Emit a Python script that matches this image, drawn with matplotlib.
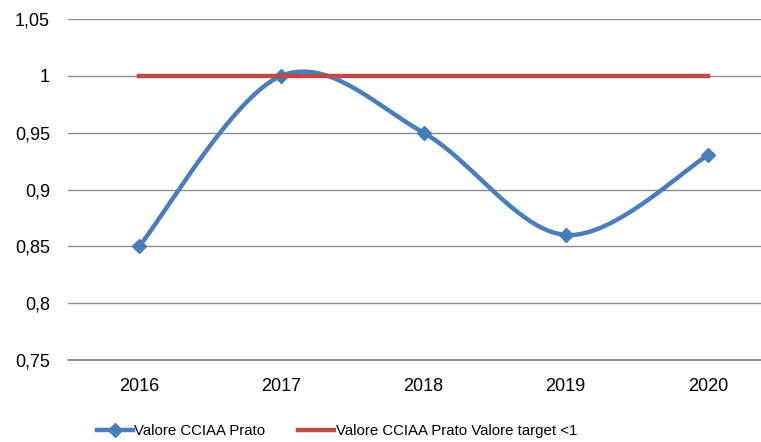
import numpy as np
import matplotlib.pyplot as plt
from matplotlib.lines import Line2D

years = ["2016", "2017", "2018", "2019", "2020"]
valore = [0.85, 1.00, 0.95, 0.86, 0.93]
target = [1.0, 1.0, 1.0, 1.0, 1.0]
yticks = [0.75, 0.80, 0.85, 0.90, 0.95, 1.00, 1.05]

BLUE = "#4A7EBB"
RED = "#BE4B48"
GRID = "#8C8C8C"


def excel_smooth(x, y, sx, sy, n=40):
    # bezier smoothing like Excel, computed in pixel-ish space
    px = np.asarray(x, float) * sx
    py = np.asarray(y, float) * sy
    P = np.column_stack([px, py])
    P = np.vstack([P[0], P, P[-1]])
    out = []
    t = np.linspace(0, 1, n)[:, None]
    for i in range(1, len(P) - 2):
        p0, p3 = P[i], P[i + 1]
        c1 = p0 + (P[i + 1] - P[i - 1]) / 6
        c2 = p3 - (P[i + 2] - P[i]) / 6
        seg = ((1 - t) ** 3) * p0 + 3 * ((1 - t) ** 2) * t * c1 + 3 * (1 - t) * t ** 2 * c2 + t ** 3 * p3
        out.append(seg if i == 1 else seg[1:])
    out = np.vstack(out)
    return out[:, 0] / sx, out[:, 1] / sy


fig = plt.figure(figsize=(7.61, 4.42), dpi=100)
ax = fig.add_axes([68 / 761, 1 - 360 / 442, 711 / 761, 341 / 442])

xs = np.arange(len(years))
cx, cy = excel_smooth(xs, valore, 142.4, 57 / 0.05)
ax.plot(cx, cy, color=BLUE, lw=3.2, solid_capstyle="round", zorder=3)
ax.plot(xs, valore, ls="none", marker="D", ms=7, color=BLUE, zorder=3)
ax.plot(xs, target, color=RED, lw=3.2, zorder=4)

ax.set_xlim(-0.5, len(years) - 0.5)
ax.set_ylim(0.75, 1.05)
ax.set_yticks(yticks)
ax.set_yticklabels([("%g" % v).replace(".", ",") for v in yticks])
ax.set_xticks(xs)
ax.set_xticklabels(years)
ax.tick_params(length=0, labelsize=13, colors="#000000")
ax.tick_params(axis="y", pad=13)
ax.tick_params(axis="x", pad=13)
for lab in ax.get_xticklabels() + ax.get_yticklabels():
    lab.set_fontfamily("Liberation Sans")
ax.grid(axis="y", color=GRID, lw=1)
ax.set_axisbelow(True)
for s in ["top", "right", "left"]:
    ax.spines[s].set_visible(False)
ax.spines["bottom"].set_color("#7F7F7F")
ax.spines["bottom"].set_linewidth(1.2)

handles = [
    Line2D([], [], color=BLUE, lw=3.2, marker="D", ms=7),
    Line2D([], [], color=RED, lw=3.2),
]
fig.legend(handles, ["Valore CCIAA Prato", "Valore CCIAA Prato Valore target <1"],
           loc="center", bbox_to_anchor=(337 / 761, 1 - 431 / 442), ncol=2, frameon=False,
           handlelength=2.4, handletextpad=0.08, columnspacing=2.2,
           prop={"family": "Liberation Sans", "size": 10.8})

fig.savefig("out.png", dpi=100)
